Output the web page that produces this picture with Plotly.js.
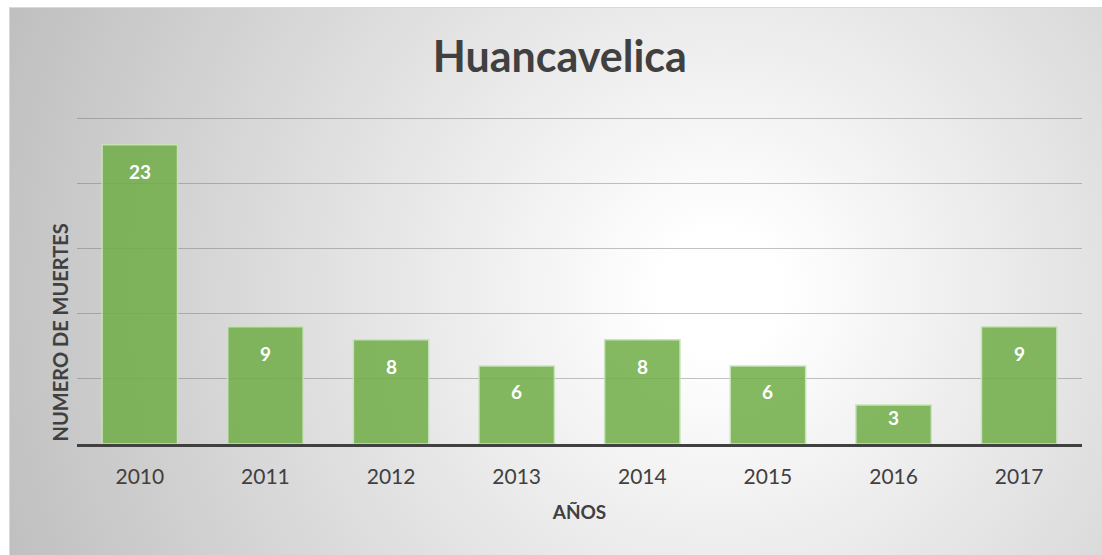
<!DOCTYPE html>
<html>
<head>
<meta charset="utf-8">
<script src="https://cdn.plot.ly/plotly-3.0.1.min.js"></script>
<style>
  body { margin: 0; background: #fff; }
  #frame {
    position: absolute; left: 9px; top: 7px; width: 1092px; height: 547px;
    border: 1px solid #d9d9d9;
    background: radial-gradient(circle farthest-corner at 65% 52%, #ffffff 0%, #ffffff 8%, #bfbfbf 100%);
  }
  #chart { position: absolute; left: 0; top: 0; width: 1102px; height: 555px; }
</style>
</head>
<body>
<div id="frame"></div>
<div id="chart"></div>
<script>
const years = ['2010', '2011', '2012', '2013', '2014', '2015', '2016', '2017'];
const deaths = [23, 9, 8, 6, 8, 6, 3, 9];

const fontFamily = 'Lato, "Open Sans", sans-serif';
const yMax = 25.2;
const plotH = 555 - 116 - 111;

// value labels just under the top of each bar (short bars get a smaller gap)
const labels = years.map((yr, i) => {
    const barPx = deaths[i] / yMax * plotH;
    return {
        x: i, y: deaths[i], xref: 'x', yref: 'y',
        text: '<b>' + deaths[i] + '</b>', showarrow: false,
        yanchor: 'middle', yshift: -Math.min(27, barPx / 3),
        font: { family: fontFamily, size: 19, color: '#ffffff' }
    };
});

labels.push({
    text: '<b>NUMERO DE MUERTES</b>', textangle: -90, showarrow: false,
    xref: 'paper', yref: 'paper', x: -0.016, y: 0.34,
    xanchor: 'center', yanchor: 'middle',
    font: { family: fontFamily, size: 20, color: '#404040' }
});

const layout = {
    width: 1102, height: 555,
    margin: { l: 77, r: 20, t: 116, b: 111 },
    paper_bgcolor: 'rgba(0,0,0,0)',
    plot_bgcolor: 'rgba(0,0,0,0)',
    bargap: 0.4,
    showlegend: false,
    title: {
        text: '<b>Huancavelica</b>',
        xref: 'container', yref: 'container', x: 0.508, y: 0.897,
        xanchor: 'center', yanchor: 'middle',
        font: { family: fontFamily, size: 43, color: '#404040' }
    },
    xaxis: {
        type: 'category',
        range: [-0.5, years.length - 0.5],
        showgrid: false,
        showline: true, linecolor: '#404040', linewidth: 3,
        ticks: '', ticklabelstandoff: 12,
        tickfont: { family: fontFamily, size: 21, color: '#404040' },
        title: {
            text: '<b>AÑOS</b>', standoff: 19,
            font: { family: fontFamily, size: 19, color: '#404040' }
        }
    },
    yaxis: {
        range: [0, yMax], dtick: 5,
        showticklabels: false, ticks: '',
        showgrid: true, gridcolor: 'rgba(110,110,110,0.42)', gridwidth: 1,
        zeroline: false, showline: false
    },
    annotations: labels
};

Plotly.newPlot('chart', [{
    type: 'bar', x: years, y: deaths,
    marker: {
        color: 'rgba(112,173,71,0.86)',
        line: { color: 'rgba(200,228,185,0.95)', width: 1.5 }
    },
    hoverinfo: 'x+y'
}], layout, { displayModeBar: false, staticPlot: true });
</script>
</body>
</html>
